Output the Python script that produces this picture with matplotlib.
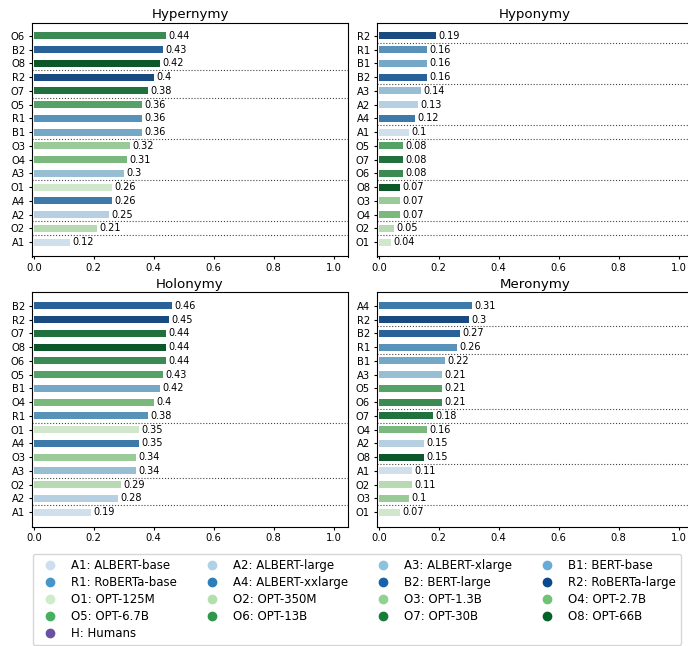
import colorsys

import matplotlib

matplotlib.use("Agg")
import matplotlib.pyplot as plt
import numpy as np
from matplotlib.colors import to_rgb
from matplotlib.lines import Line2D

# model codes and names
BLUE_CODES = ["A1", "A2", "A3", "B1", "R1", "A4", "B2", "R2"]
BLUE_NAMES = ["ALBERT-base", "ALBERT-large", "ALBERT-xlarge", "BERT-base",
              "RoBERTa-base", "ALBERT-xxlarge", "BERT-large", "RoBERTa-large"]
GREEN_CODES = ["O1", "O2", "O3", "O4", "O5", "O6", "O7", "O8"]
GREEN_NAMES = ["OPT-125M", "OPT-350M", "OPT-1.3B", "OPT-2.7B",
               "OPT-6.7B", "OPT-13B", "OPT-30B", "OPT-66B"]

# per-relation rankings (top to bottom) with scores
HYPER_MODELS = ["O6", "B2", "O8", "R2", "O7", "O5", "R1", "B1",
                "O3", "O4", "A3", "O1", "A4", "A2", "O2", "A1"]
HYPER_SCORES = [0.44, 0.43, 0.42, 0.4, 0.38, 0.36, 0.36, 0.36,
                0.32, 0.31, 0.3, 0.26, 0.26, 0.25, 0.21, 0.12]
HYPER_SEPS = [2.5, 4.5, 7.5, 10.5, 13.5, 14.5]

HYPO_MODELS = ["R2", "R1", "B1", "B2", "A3", "A2", "A4", "A1",
               "O5", "O7", "O6", "O8", "O3", "O4", "O2", "O1"]
HYPO_SCORES = [0.19, 0.16, 0.16, 0.16, 0.14, 0.13, 0.12, 0.1,
               0.08, 0.08, 0.08, 0.07, 0.07, 0.07, 0.05, 0.04]
HYPO_SEPS = [0.5, 3.5, 6.5, 7.5, 10.5, 13.5, 14.5]

HOLO_MODELS = ["B2", "R2", "O7", "O8", "O6", "O5", "B1", "O4",
               "R1", "O1", "A4", "O3", "A3", "O2", "A2", "A1"]
HOLO_SCORES = [0.46, 0.45, 0.44, 0.44, 0.44, 0.43, 0.42, 0.4,
               0.38, 0.35, 0.35, 0.34, 0.34, 0.29, 0.28, 0.19]
HOLO_SEPS = [8.5, 12.5, 14.5]

MERO_MODELS = ["A4", "R2", "B2", "R1", "B1", "A3", "O5", "O6",
               "O7", "O4", "A2", "O8", "A1", "O2", "O3", "O1"]
MERO_SCORES = [0.31, 0.3, 0.27, 0.26, 0.22, 0.21, 0.21, 0.21,
               0.18, 0.16, 0.15, 0.15, 0.11, 0.11, 0.1, 0.07]
MERO_SEPS = [1.5, 3.5, 7.5, 8.5, 11.5, 14.5]

PANELS = [
    ("Hypernymy", HYPER_MODELS, HYPER_SCORES, HYPER_SEPS),
    ("Hyponymy", HYPO_MODELS, HYPO_SCORES, HYPO_SEPS),
    ("Holonymy", HOLO_MODELS, HOLO_SCORES, HOLO_SEPS),
    ("Meronymy", MERO_MODELS, MERO_SCORES, MERO_SEPS),
]

COLORS = {}
for c, col in zip(BLUE_CODES, plt.cm.Blues(np.linspace(0.22, 0.9, 8))):
    COLORS[c] = col[:3]
for c, col in zip(GREEN_CODES, plt.cm.Greens(np.linspace(0.22, 0.9, 8))):
    COLORS[c] = col[:3]
HUMAN_COLOR = "#6a51a3"


def desaturate(color, prop=0.75):
    h, l, s = colorsys.rgb_to_hls(*to_rgb(color))
    return colorsys.hls_to_rgb(h, l, s * prop)


def draw_panel(ax, title, models, scores, seps):
    y = np.arange(len(models))
    ax.barh(y, scores, height=0.5, color=[desaturate(COLORS[m]) for m in models])
    for yi, s in zip(y, scores):
        ax.text(s + 0.01, yi, f"{s:g}", va="center", ha="left", fontsize=7)
    for sep in seps:
        ax.axhline(sep, color="#444444", ls=":", lw=0.8)
    ax.set_yticks(y)
    ax.set_yticklabels(models)
    ax.set_ylim(16.05, -0.97)
    ax.set_xlim(-0.006, 1.048)
    ax.set_xticks(np.arange(0, 1.01, 0.2))
    ax.tick_params(labelsize=7.2, length=2.5, pad=2.5)
    ax.set_title(title, fontsize=9.6, pad=3)


fig = plt.figure(figsize=(6.88, 6.46), dpi=100)
w, h = 316 / 688, 234 / 646
positions = [
    [32 / 688, 1 - 256.5 / 646, w, h],
    [377 / 688, 1 - 256.5 / 646, w, h],
    [32 / 688, 1 - 526.5 / 646, w, h],
    [377 / 688, 1 - 526.5 / 646, w, h],
]
for pos, (title, models, scores, seps) in zip(positions, PANELS):
    draw_panel(fig.add_axes(pos), title, models, scores, seps)

# legend, filled column-wise so it reads row-wise
entries = [(f"{c}: {n}", COLORS[c]) for c, n in zip(BLUE_CODES + GREEN_CODES, BLUE_NAMES + GREEN_NAMES)]
entries.append(("H: Humans", HUMAN_COLOR))
order = [0, 4, 8, 12, 16, 1, 5, 9, 13, 2, 6, 10, 14, 3, 7, 11, 15]
handles = [Line2D([], [], ls="", marker="o", markersize=6, color=entries[i][1]) for i in order]
labels = [entries[i][0] for i in order]
fig.legend(handles, labels, ncol=4, fontsize=8.5, mode="expand",
           bbox_to_anchor=(33 / 688, 1 / 646, 648 / 688, 89 / 646), loc="lower left",
           handletextpad=0.8, labelspacing=0.35, borderaxespad=0.0)

fig.savefig("out.png", dpi=100)
